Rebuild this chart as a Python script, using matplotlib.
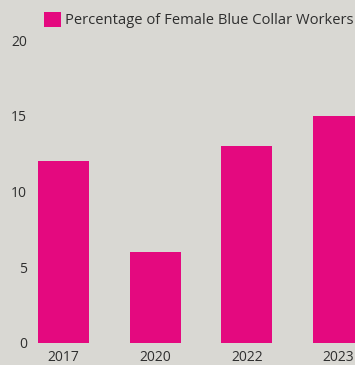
import matplotlib.pyplot as plt

# data
years = ["2017", "2020", "2022", "2023"]
pct_female = [12, 6, 13, 15]
yticks = [0, 5, 10, 15, 20]

bg = "#d9d8d3"
bar_color = "#e4097f"
text_color = "#2e2e2e"

plt.rcParams["font.family"] = ["Open Sans", "DejaVu Sans"]

fig = plt.figure(figsize=(3.55, 3.65), dpi=100, facecolor=bg)
# axes placed in pixel terms: left edge 30px, right edge at figure edge
ax = fig.add_axes([30 / 355, 22 / 365, 325 / 355, 303 / 365], facecolor=bg)

x = range(len(years))
ax.bar(x, pct_female, width=0.556, color=bar_color,
       label="Percentage of Female Blue Collar Workers", zorder=2)

ax.set_xlim(-0.365, 3.18)
ax.set_ylim(0, 20)
ax.set_yticks(yticks)
ax.set_xticks(list(x))
ax.set_xticklabels(years)

for s in ax.spines.values():
    s.set_visible(False)
ax.tick_params(length=0, labelsize=10, colors=text_color)
ax.tick_params(axis="x", pad=5)
ax.tick_params(axis="y", pad=2)

leg = ax.legend(loc="upper left", bbox_to_anchor=(44 / 355, 353 / 365), bbox_transform=fig.transFigure,
                frameon=False, fontsize=10.6, handlelength=1.15, handleheight=1.15,
                handletextpad=0.3, borderpad=0, borderaxespad=0)
for t in leg.get_texts():
    t.set_color(text_color)

fig.savefig("out.png", dpi=100, facecolor=bg)
